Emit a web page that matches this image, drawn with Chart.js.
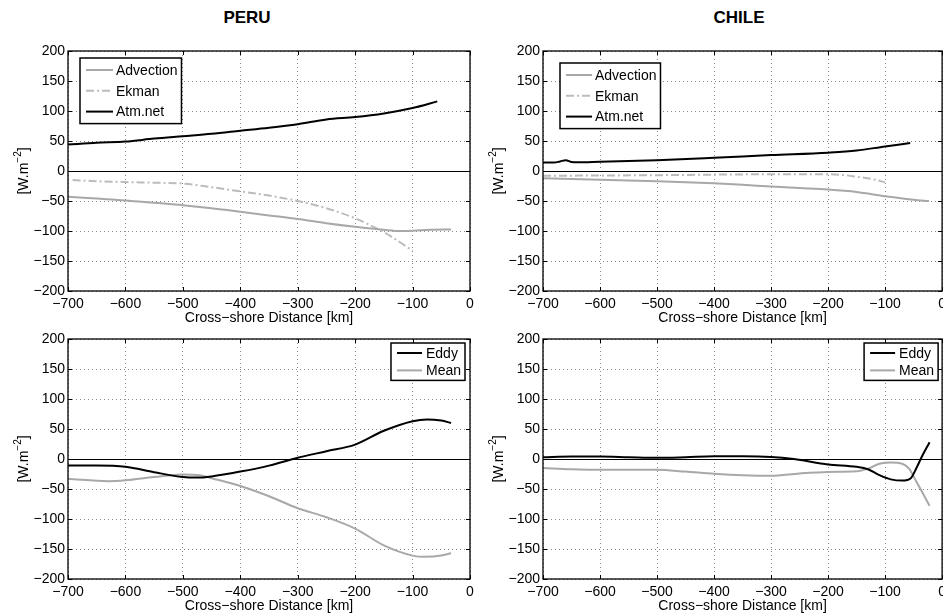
<!DOCTYPE html>
<html>
<head>
<meta charset="utf-8">
<script src="https://cdn.jsdelivr.net/npm/chart.js@4.4.1/dist/chart.umd.min.js"></script>
<style>
  html, body { margin: 0; padding: 0; background: #fff; overflow: hidden; width: 943px; height: 614px; }
  .panel { position: absolute; }
  .title { position: absolute; top: 8px; line-height: 20px; font: bold 17px "Liberation Sans", Arial, Helvetica, sans-serif; transform: translateX(-50%); color: #000; }
</style>
</head>
<body>
<div class="title" style="left:247px">PERU</div>
<div class="title" style="left:739px">CHILE</div>
<div class="panel" style="left:0;top:30px"><canvas id="peru-top" width="480" height="300"></canvas></div>
<div class="panel" style="left:471px;top:30px"><canvas id="chile-top" width="480" height="300"></canvas></div>
<div class="panel" style="left:0;top:318px"><canvas id="peru-bottom" width="480" height="300"></canvas></div>
<div class="panel" style="left:471px;top:318px"><canvas id="chile-bottom" width="480" height="300"></canvas></div>
<script>
// heat flux terms vs cross-shore distance (km), W.m-2
const peruAdvX   = [-700, -650, -600, -550, -500, -450, -400, -350, -300, -250, -200, -150, -120, -100, -70, -33];
const peruAdv    = [-43, -46, -49, -53, -57, -62, -68, -74, -80, -87, -93, -98, -100, -99.5, -98, -97.5];
const peruEkmanX = [-692, -650, -600, -550, -500, -450, -400, -350, -300, -250, -200, -150, -120, -100];
const peruEkman  = [-15, -17, -18.5, -19.5, -21, -27, -34, -41, -50, -62, -79, -102, -120, -133];
const peruAtmX   = [-700, -650, -600, -550, -500, -450, -400, -350, -300, -250, -200, -150, -100, -57];
const peruAtm    = [44, 47, 49, 54, 58, 62, 67, 72, 78, 86, 90, 96, 105, 116];

const chileAdvX   = [-700, -600, -500, -400, -350, -300, -250, -200, -150, -100, -50, -23];
const chileAdv    = [-12, -14.5, -17, -20.5, -23, -26, -28.5, -31, -35, -42, -48, -50];
const chileEkmanX = [-700, -600, -500, -400, -300, -200, -170, -150, -120, -100];
const chileEkman  = [-8, -7.5, -7, -6, -5.5, -5.5, -7, -9.5, -14, -19];
const chileAtmX   = [-700, -680, -670, -660, -650, -640, -600, -500, -400, -300, -200, -150, -100, -56];
const chileAtm    = [14, 14, 16, 18, 15, 14.5, 15.5, 18, 22, 26.5, 30.5, 34, 41, 46.5];

const peruEddyX = [-700, -650, -600, -550, -500, -475, -450, -400, -350, -300, -250, -200, -150, -100, -75, -50, -33];
const peruEddy  = [-11, -11, -13, -22, -30, -31, -29, -21, -11, 2, 13, 24, 47, 63, 66, 64, 60];
const peruMeanX = [-700, -630, -600, -550, -500, -470, -450, -400, -350, -300, -250, -200, -150, -100, -80, -50, -33];
const peruMean  = [-33, -37, -35.5, -30, -26, -27, -32, -45, -62, -82, -97, -116, -144, -161, -163, -161, -157];

const chileEddyX = [-700, -650, -600, -550, -500, -450, -400, -350, -300, -260, -200, -150, -130, -110, -90, -70, -55, -45, -35, -22];
const chileEddy  = [3, 4, 4, 3, 2, 3, 4.5, 4.5, 3.5, 0, -9, -13, -17, -27, -34, -36, -32, -15, 5, 28];
const chileMeanX = [-700, -650, -600, -500, -450, -400, -350, -300, -250, -200, -150, -130, -110, -90, -70, -58, -45, -35, -22];
const chileMean  = [-15, -17, -18, -18, -21, -24.5, -27, -28, -24, -21.5, -20.5, -16, -8, -6, -8, -16, -38, -55, -78];

const xTicks = [-700, -600, -500, -400, -300, -200, -100, 0];
const yTicks = [-200, -150, -100, -50, 0, 50, 100, 150, 200];

const FONT = '"Liberation Sans", Arial, Helvetica, sans-serif';
const GREY = '#a8a8a8';
const LIGHT = '#bcbcbc';

function pts(xs, ys) { return xs.map(function (x, i) { return { x: x, y: ys[i] }; }); }
function minus(v) { return String(v).replace('-', '\u2212'); }

function line(label, xs, ys, color, dash) {
  return { label: label, data: pts(xs, ys), borderColor: color, borderWidth: 2, borderDash: dash || [],
    pointRadius: 0, cubicInterpolationMode: 'monotone', fill: false };
}

// frame, zero line, inward ticks, y label with superscript, boxed legend
const framePlugin = {
  id: 'frame',
  beforeDatasetsDraw(chart) {
    const { ctx, chartArea: a, scales: { y } } = chart;
    const y0 = Math.round(y.getPixelForValue(0)) + 0.5;
    ctx.save();
    ctx.strokeStyle = '#000'; ctx.lineWidth = 1.2;
    ctx.beginPath(); ctx.moveTo(a.left, y0); ctx.lineTo(a.right, y0); ctx.stroke();
    ctx.restore();
  },
  afterDraw(chart, args, opts) {
    const { ctx, chartArea: a, scales: { x, y } } = chart;
    ctx.save();
    ctx.strokeStyle = '#000'; ctx.lineWidth = 1.3;
    ctx.strokeRect(a.left, a.top, a.right - a.left, a.bottom - a.top);
    ctx.lineWidth = 1;
    ctx.beginPath();
    xTicks.forEach(function (v) {
      const px = Math.round(x.getPixelForValue(v)) + 0.5;
      ctx.moveTo(px, a.bottom); ctx.lineTo(px, a.bottom - 4);
      ctx.moveTo(px, a.top); ctx.lineTo(px, a.top + 4);
    });
    yTicks.forEach(function (v) {
      const py = Math.round(y.getPixelForValue(v)) + 0.5;
      ctx.moveTo(a.left, py); ctx.lineTo(a.left + 4, py);
      ctx.moveTo(a.right, py); ctx.lineTo(a.right - 4, py);
    });
    ctx.stroke();

    // y axis label: [W.m^-2]
    ctx.translate(a.left - 40, (a.top + a.bottom) / 2);
    ctx.rotate(-Math.PI / 2);
    ctx.fillStyle = '#000';
    ctx.textBaseline = 'alphabetic';
    const t1 = '[W.m', t3 = ']', sup = '\u22122';
    ctx.font = '10px ' + FONT;
    const w2 = ctx.measureText(sup).width;
    ctx.font = '14px ' + FONT;
    const w1 = ctx.measureText(t1).width, w3 = ctx.measureText(t3).width;
    let sx = -(w1 + w2 + w3) / 2;
    ctx.fillText(t1, sx, 0); sx += w1;
    ctx.font = '10px ' + FONT;
    ctx.fillText(sup, sx, -7); sx += w2;
    ctx.font = '14px ' + FONT;
    ctx.fillText(t3, sx, 0);
    ctx.setTransform(1, 0, 0, 1, 0, 0);

    // legend box
    const L = opts.legend;
    if (L) {
      ctx.font = '14px ' + FONT;
      let tw = 0;
      chart.data.datasets.forEach(function (d) { tw = Math.max(tw, ctx.measureText(d.label).width); });
      const w = L.textX + tw + 4;
      const h = L.rowTop * 2 + L.rowGap * (chart.data.datasets.length - 1);
      const bx = L.corner === 'ne' ? a.right - L.dx - w : a.left + L.dx;
      const by = a.top + L.dy;
      ctx.fillStyle = '#fff';
      ctx.fillRect(bx, by, w, h);
      ctx.strokeStyle = '#000'; ctx.lineWidth = 1.5;
      ctx.strokeRect(bx, by, w, h);
      chart.data.datasets.forEach(function (d, i) {
        const ry = by + L.rowTop + i * L.rowGap;
        ctx.strokeStyle = d.borderColor; ctx.lineWidth = d.borderWidth;
        ctx.setLineDash(d.borderDash);
        ctx.beginPath(); ctx.moveTo(bx + L.lineX0, ry); ctx.lineTo(bx + L.lineX1, ry); ctx.stroke();
        ctx.setLineDash([]);
        ctx.fillStyle = '#000'; ctx.textBaseline = 'middle'; ctx.textAlign = 'left';
        ctx.fillText(d.label, bx + L.textX, ry + 1);
      });
    }
    ctx.restore();
  }
};

function makePanel(id, datasets, yWidth, padRight, legend) {
  return new Chart(document.getElementById(id), {
    type: 'line',
    data: { datasets: datasets },
    options: {
      responsive: false, animation: false,
      layout: { padding: { top: 21, right: padRight, bottom: 3, left: 0 } },
      plugins: { legend: { display: false }, tooltip: { enabled: false }, frame: { legend: legend } },
      scales: {
        x: {
          type: 'linear', min: -700, max: 0,
          afterFit: function (s) { s.height = 36; },
          afterBuildTicks: function (s) { s.ticks = xTicks.map(function (v) { return { value: v }; }); },
          grid: { color: '#8a8a8a', lineWidth: 1, drawTicks: false },
          border: { display: false, dash: [1, 3] },
          ticks: { autoSkip: false, maxRotation: 0, padding: 5, color: '#000', font: { family: FONT, size: 14 }, callback: minus },
          title: { display: true, text: 'Cross\u2212shore Distance [km]', color: '#000', padding: 0, font: { family: FONT, size: 14 } }
        },
        y: {
          min: -200, max: 200,
          afterFit: function (s) { s.width = yWidth; },
          afterBuildTicks: function (s) { s.ticks = yTicks.map(function (v) { return { value: v }; }); },
          grid: { color: '#8a8a8a', lineWidth: 1, drawTicks: false },
          border: { display: false, dash: [1, 3] },
          ticks: { padding: 3, color: '#000', font: { family: FONT, size: 14 }, callback: minus }
        }
      }
    },
    plugins: [framePlugin]
  });
}

const topLegendPeru  = { corner: 'nw', dx: 12, dy: 7, rowTop: 12, rowGap: 20.8, lineX0: 6, lineX1: 33, textX: 36 };
const topLegendChile = { corner: 'nw', dx: 17, dy: 12, rowTop: 12, rowGap: 20.8, lineX0: 6, lineX1: 32, textX: 35 };
const botLegend      = { corner: 'ne', dx: 5, dy: 4, rowTop: 10, rowGap: 17.4, lineX0: 6, lineX1: 31, textX: 35 };

makePanel('peru-top', [
  line('Advection', peruAdvX, peruAdv, GREY),
  line('Ekman', peruEkmanX, peruEkman, LIGHT, [8, 3, 2, 3]),
  line('Atm.net', peruAtmX, peruAtm, '#000')
], 68, 10, topLegendPeru);

makePanel('chile-top', [
  line('Advection', chileAdvX, chileAdv, GREY),
  line('Ekman', chileEkmanX, chileEkman, LIGHT, [8, 3, 2, 3]),
  line('Atm.net', chileAtmX, chileAtm, '#000')
], 72, 6, topLegendChile);

makePanel('peru-bottom', [
  line('Eddy', peruEddyX, peruEddy, '#000'),
  line('Mean', peruMeanX, peruMean, GREY)
], 68, 10, botLegend);

makePanel('chile-bottom', [
  line('Eddy', chileEddyX, chileEddy, '#000'),
  line('Mean', chileMeanX, chileMean, GREY)
], 72, 6, Object.assign({}, botLegend, { dx: 4 }));
</script>
</body>
</html>
